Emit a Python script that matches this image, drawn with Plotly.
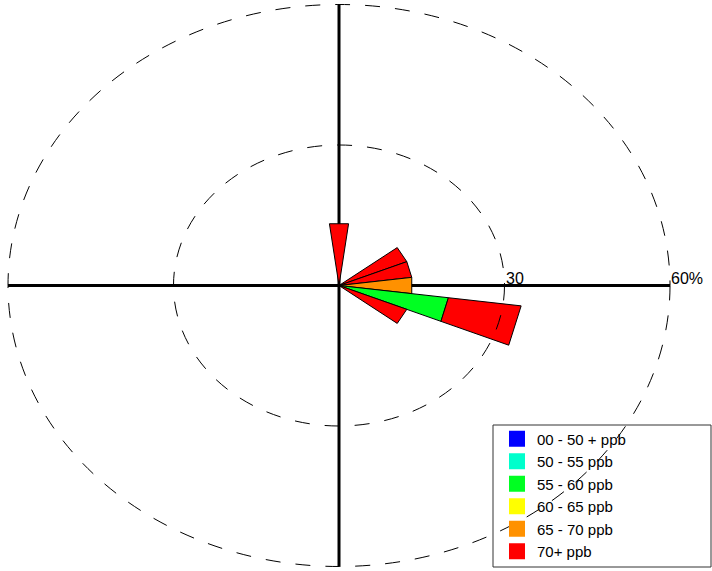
import numpy as np
import plotly.graph_objects as go

# ---- data -------------------------------------------------------------
directions = [0, 60, 75, 90, 105, 120]          # compass degrees (sector centres)
sector_width = 15                                # degrees
bin_labels = ["00 - 50 + ppb", "50 - 55 ppb", "55 - 60 ppb",
              "60 - 65 ppb", "65 - 70 ppb", "70+ ppb"]
bin_colors = ["#0000FF", "#00FFCC", "#00FF22", "#FFFF00", "#FF9100", "#FF0000"]
freq_00_50 = [0, 0, 0, 0, 0, 0]
freq_50_55 = [0, 0, 0, 0, 0, 0]
freq_55_60 = [0, 0, 0, 0, 20.0, 0]
freq_60_65 = [0, 0, 0, 0, 0, 0]
freq_65_70 = [0, 0, 0, 13.3, 0, 0]
freq_70_up = [13.3, 13.3, 13.3, 0, 13.3, 13.3]
ring_values = [30, 60]
ring_labels = ["30", "60%"]
r_max = 60

bins = [freq_00_50, freq_50_55, freq_55_60, freq_60_65, freq_65_70, freq_70_up]

fig = go.Figure()

# axis cross
fig.add_trace(go.Scatter(x=[-r_max, r_max], y=[0, 0], mode="lines",
                         line=dict(color="black", width=3),
                         showlegend=False, hoverinfo="skip"))
fig.add_trace(go.Scatter(x=[0, 0], y=[-r_max, r_max], mode="lines",
                         line=dict(color="black", width=3),
                         showlegend=False, hoverinfo="skip"))

# stacked wedges
for i, d in enumerate(directions):
    base = 0.0
    a1 = np.radians(d - sector_width / 2)
    a2 = np.radians(d + sector_width / 2)
    for b, vals in enumerate(bins):
        v = vals[i]
        if v <= 0:
            continue
        r0, r1 = base, base + v
        xs = [r0 * np.sin(a1), r1 * np.sin(a1), r1 * np.sin(a2), r0 * np.sin(a2), r0 * np.sin(a1)]
        ys = [r0 * np.cos(a1), r1 * np.cos(a1), r1 * np.cos(a2), r0 * np.cos(a2), r0 * np.cos(a1)]
        fig.add_trace(go.Scatter(x=xs, y=ys, mode="lines", fill="toself",
                                 fillcolor=bin_colors[b],
                                 line=dict(color="black", width=1),
                                 showlegend=False, hoverinfo="skip"))
        base = r1

# legend entries
for lab, col in zip(bin_labels, bin_colors):
    fig.add_trace(go.Scatter(x=[None], y=[None], mode="markers", name=lab,
                             marker=dict(symbol="square", size=16, color=col,
                                         line=dict(width=0))))

# rings (dashed ellipses because axes are not equal-scaled)
shapes = []
for r in ring_values:
    shapes.append(dict(type="circle", xref="x", yref="y", x0=-r, x1=r, y0=-r, y1=r,
                       line=dict(color="black", width=1, dash="15px,15px"),
                       layer="above"))
# legend frame
shapes.append(dict(type="rect", xref="paper", yref="paper",
                   x0=493 / 712, x1=711 / 712, y0=1 - 567 / 571, y1=1 - 425 / 571,
                   line=dict(color="#333333", width=1), fillcolor="rgba(0,0,0,0)",
                   layer="above"))

annotations = []
for r, lab in zip(ring_values, ring_labels):
    annotations.append(dict(x=r, y=0, xref="x", yref="y", text=lab, showarrow=False,
                            xanchor="left", yanchor="bottom", xshift=0, yshift=-2,
                            borderpad=0, font=dict(size=16, color="black")))

fig.update_layout(
    width=712, height=571,
    margin=dict(l=0, r=0, t=0, b=0),
    paper_bgcolor="white", plot_bgcolor="white",
    font=dict(family="Liberation Sans, Arial, sans-serif", color="black"),
    xaxis=dict(range=[-61.45, 67.61], visible=False, fixedrange=True),
    yaxis=dict(range=[-60.96, 60.96], visible=False, fixedrange=True),
    shapes=shapes,
    annotations=annotations,
    showlegend=True,
    legend=dict(x=497 / 712, y=1 - 422.5 / 571, xanchor="left", yanchor="top",
                bgcolor="rgba(0,0,0,0)", borderwidth=0,
                font=dict(size=15, color="black"),
                tracegroupgap=0, itemclick=False, itemdoubleclick=False),
)

fig.write_html("out.html", config={"displayModeBar": False},
               post_script="document.body.style.margin='0';document.body.style.overflow='hidden';")
